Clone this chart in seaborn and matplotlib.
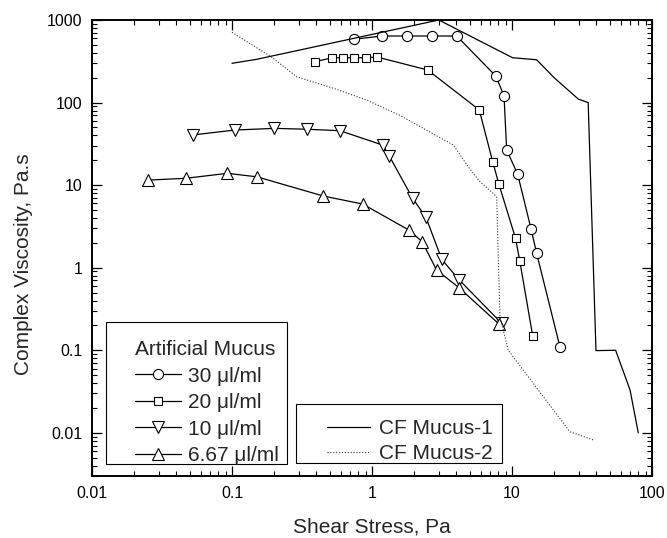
import numpy as np
import pandas as pd
import matplotlib
matplotlib.use("Agg")
import matplotlib.pyplot as plt
from matplotlib.ticker import FuncFormatter, NullFormatter, LogLocator
from matplotlib.patches import Rectangle
from matplotlib.lines import Line2D
import seaborn as sns

# ---- data: shear stress (Pa) vs complex viscosity (Pa.s) ----
am30_stress = [0.74, 1.18, 1.77, 2.67, 4.03, 7.65, 8.77, 9.16, 10.97, 13.7, 15.0, 22.0]
am30_visc = [584, 640, 640, 640, 640, 210, 121, 26.6, 13.6, 2.92, 1.49, 0.110]

am20_stress = [0.392, 0.521, 0.624, 0.748, 0.902, 1.086, 2.50, 5.84, 7.28, 8.07, 10.6, 11.35, 14.06]
am20_visc = [313, 349, 349, 349, 349, 356, 248, 81.3, 19.2, 10.2, 2.27, 1.22, 0.149]

am10_stress = [0.0524, 0.105, 0.201, 0.345, 0.591, 1.19, 1.33, 1.95, 2.43, 3.15, 4.2, 8.44]
am10_visc = [40.5, 46.5, 48.7, 47.5, 45.6, 30.6, 22.5, 6.92, 4.07, 1.26, 0.71, 0.212]

am667_stress = [0.025, 0.0467, 0.0927, 0.151, 0.449, 0.859, 1.83, 2.28, 2.89, 4.18, 8.07]
am667_visc = [11.5, 12.1, 13.9, 12.6, 7.38, 5.9, 2.86, 2.07, 0.94, 0.573, 0.208]

cf1_stress = [0.1, 0.15, 3.0, 10.1, 15, 20, 29.8, 35, 39.8, 55, 69.7, 79.8]
cf1_visc = [299, 334, 1000, 349, 330, 200, 110, 100, 0.099, 0.1, 0.033, 0.01]

cf2_stress = [0.1, 0.19, 0.29, 0.53, 0.92, 1.58, 3.81, 4.87, 5.9, 7.36, 7.77, 8.2, 9.4, 25.9, 38.1]
cf2_visc = [710, 360, 205, 149, 107, 70, 30.6, 16.7, 11, 7.9, 7.2, 0.255, 0.1, 0.0103, 0.0082]

artificial_labels = ["30 \u03bcl/ml", "20 \u03bcl/ml", "10 \u03bcl/ml", "6.67 \u03bcl/ml"]
cf_labels = ["CF Mucus-1", "CF Mucus-2"]
x_ticks = [0.01, 0.1, 1, 10, 100]
y_ticks = [0.01, 0.1, 1, 10, 100, 1000]

sns.set_style("ticks")
plt.rcParams["font.family"] = ["Liberation Sans", "DejaVu Sans"]

fig = plt.figure(figsize=(6.67, 5.38), dpi=100)
ax = fig.add_axes([92 / 667, 62 / 538, 560 / 667, 456 / 538])
ax.set_xscale("log")
ax.set_yscale("log")

series = [
    (am30_stress, am30_visc, "o", 7.3),
    (am20_stress, am20_visc, "s", 6.3),
    (am10_stress, am10_visc, "v", 8.5),
    (am667_stress, am667_visc, "^", 8.5),
]
am_handles = []
for (xs, ys, mk, ms), lab in zip(series, artificial_labels):
    df = pd.DataFrame({"stress": xs, "visc": ys})
    sns.lineplot(data=df, x="stress", y="visc", ax=ax, sort=False, estimator=None,
                 color="black", linewidth=0.9, marker=mk, markersize=ms,
                 markerfacecolor="white", markeredgecolor="black",
                 markeredgewidth=0.8, legend=False)
    am_handles.append(Line2D([], [], color="black", linewidth=0.9, marker=mk,
                             markersize=ms, markerfacecolor="white",
                             markeredgecolor="black", markeredgewidth=0.8, label=lab))

cf_df1 = pd.DataFrame({"stress": cf1_stress, "visc": cf1_visc})
cf_df2 = pd.DataFrame({"stress": cf2_stress, "visc": cf2_visc})
sns.lineplot(data=cf_df1, x="stress", y="visc", ax=ax, sort=False, estimator=None,
             color="black", linewidth=0.9, legend=False)
sns.lineplot(data=cf_df2, x="stress", y="visc", ax=ax, sort=False, estimator=None,
             color="#333333", linewidth=0.8, linestyle=(0, (1, 1.6)), legend=False)
cf_handles = [
    Line2D([], [], color="black", linewidth=0.9, label=cf_labels[0]),
    Line2D([], [], color="#333333", linewidth=0.8, linestyle=(0, (1, 1.6)), label=cf_labels[1]),
]

ax.set_xlim(0.01, 100)
ax.set_ylim(0.003, 1000)
ax.set_xticks(x_ticks)
ax.set_yticks(y_ticks)
fmt = FuncFormatter(lambda v, _: f"{v:g}")
ax.xaxis.set_major_formatter(fmt)
ax.yaxis.set_major_formatter(fmt)
ax.xaxis.set_minor_locator(LogLocator(base=10, subs=np.arange(2, 10)))
ax.yaxis.set_minor_locator(LogLocator(base=10, subs=np.arange(2, 10)))
ax.xaxis.set_minor_formatter(NullFormatter())
ax.yaxis.set_minor_formatter(NullFormatter())

for side in ["top", "right", "bottom", "left"]:
    ax.spines[side].set_visible(True)
    ax.spines[side].set_linewidth(1.4)
    ax.spines[side].set_color("black")
ax.tick_params(which="both", direction="in", top=True, right=True, colors="black")
ax.tick_params(which="major", length=7.2, width=0.9, labelsize=11.5, pad=7)
ax.tick_params(which="minor", length=3.6, width=0.8)

ax.set_xlabel("Shear Stress, Pa", fontsize=15)
ax.set_ylabel("Complex Viscosity, Pa.s", fontsize=15)
ax.xaxis.set_label_coords(0.5, -0.092)
ax.yaxis.set_label_coords(-0.105, 0.465)

# legend boxes
ax.add_patch(Rectangle((0.025, 0.0257), 0.3227, 0.3123, transform=ax.transAxes,
                       facecolor="white", edgecolor="black", linewidth=0.8, zorder=5))
ax.add_patch(Rectangle((0.3643, 0.0292), 0.3687, 0.1287, transform=ax.transAxes,
                       facecolor="white", edgecolor="black", linewidth=0.8, zorder=5))

leg1 = ax.legend(handles=am_handles, title="Artificial Mucus", loc="upper left",
                 bbox_to_anchor=(0.0768, 0.298), frameon=False, fontsize=15,
                 title_fontsize=15, borderpad=0, borderaxespad=0,
                 handlelength=2.2, handletextpad=0.32, labelspacing=0.36,
                 alignment="left")
leg1.set_zorder(6)
ax.add_artist(leg1)
leg2 = ax.legend(handles=cf_handles, loc="upper left", bbox_to_anchor=(0.419, 0.125),
                 frameon=False, fontsize=15, borderpad=0, borderaxespad=0,
                 handlelength=2.08, handletextpad=0.45, labelspacing=0.3)
leg2.set_zorder(6)

fig.savefig("out.png", dpi=100)
